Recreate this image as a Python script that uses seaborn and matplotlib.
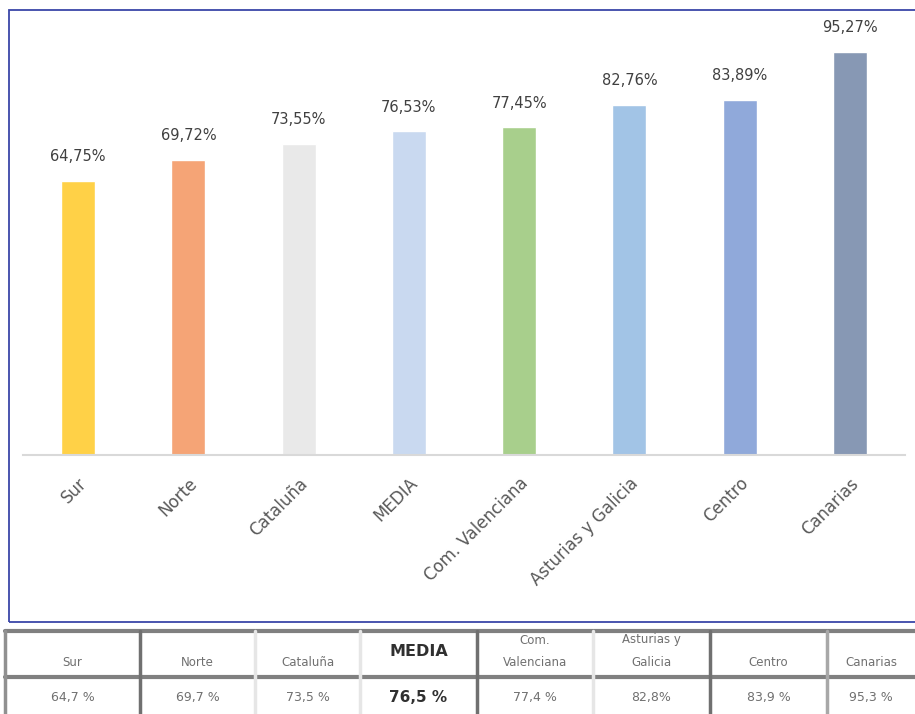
import matplotlib
matplotlib.use("Agg")
import matplotlib.pyplot as plt
import seaborn as sns
import pandas as pd
from matplotlib.patches import Rectangle
from matplotlib.lines import Line2D

categories = ["Sur", "Norte", "Cataluña", "MEDIA", "Com. Valenciana",
              "Asturias y Galicia", "Centro", "Canarias"]
values = [64.75, 69.72, 73.55, 76.53, 77.45, 82.76, 83.89, 95.27]
bar_labels = ["64,75%", "69,72%", "73,55%", "76,53%", "77,45%", "82,76%", "83,89%", "95,27%"]
table_headers = ["Sur", "Norte", "Cataluña", "MEDIA", "Com.\nValenciana",
                 "Asturias y\nGalicia", "Centro", "Canarias"]
table_values = ["64,7 %", "69,7 %", "73,5 %", "76,5 %", "77,4 %", "82,8%", "83,9 %", "95,3 %"]

colors = ["#FFD147", "#F5A476", "#E9E9E9", "#C9D9F0", "#A8CF8C",
          "#A2C4E6", "#90A9DA", "#8798B4"]

sns.set_theme(style="white")
plt.rcParams['font.family'] = ['DejaVu Sans']

W, H = 915, 714
fig = plt.figure(figsize=(W / 100, H / 100), dpi=100)

def px_axes(x0, y0, x1, y1):
    return fig.add_axes([x0 / W, 1 - y1 / H, (x1 - x0) / W, (y1 - y0) / H])

# chart border
fig.patches.append(Rectangle((9 / W, 1 - 622 / H), (930 - 9) / W, (622 - 10) / H,
                             transform=fig.transFigure, fill=False,
                             edgecolor="#3A46A8", linewidth=1.3))

ax = px_axes(23, 32, 905, 455)
df = pd.DataFrame({"cat": categories, "val": values})
sns.barplot(data=df, x="cat", y="val", hue="cat", palette=colors,
            legend=False, width=0.31, ax=ax, saturation=1)
ax.set_ylim(0, 100)
ax.set_xlim(-0.5, len(categories) - 0.5)
for s in ["top", "right", "left"]:
    ax.spines[s].set_visible(False)
ax.spines["bottom"].set_color("#D9D9D9")
ax.spines["bottom"].set_linewidth(1.5)
ax.set_yticks([])
ax.set_xlabel("")
ax.set_ylabel("")
ax.tick_params(axis="x", length=0, pad=14)
ax.set_xticks(range(len(categories)))
ax.set_xticklabels(categories, rotation=45, ha="right", rotation_mode="anchor",
                   fontsize=12, color="#595959")
for i, (v, lab) in enumerate(zip(values, bar_labels)):
    ax.annotate(lab, (i, v), xytext=(0, 12), textcoords="offset points",
                ha="center", va="bottom", fontsize=10.5, color="#404040")

# table
tax = px_axes(0, 628, W, H)
tax.set_xlim(0, W)
tax.set_ylim(H, 628)
tax.axis("off")
cols = [5, 140, 255, 360, 477, 593, 710, 827, 915]
line_colors = ["#909090", "#707070", "#E6E6E6", "#E6E6E6", "#707070", "#E6E6E6",
               "#707070", "#A8A8A8"]
tax.add_line(Line2D([5, W], [631, 631], color="#808080", lw=3))
tax.add_line(Line2D([5, W], [677, 677], color="#808080", lw=3))
for x, c in zip(cols[:-1], line_colors):
    tax.add_line(Line2D([x, x], [631, H], color=c, lw=2.5))
for i in range(len(table_headers)):
    cx = (cols[i] + cols[i + 1]) / 2
    bold = table_headers[i] == "MEDIA"
    if bold:
        tax.text(cx, 652, table_headers[i], ha="center", va="center",
                 fontsize=11.5, color="#303030", fontweight="bold")
    else:
        lines = table_headers[i].split("\n")
        for k, ln in enumerate(reversed(lines)):
            tax.text(cx, 662 - 22 * k, ln, ha="center", va="center",
                     fontsize=8.5, color="#707070")
    tax.text(cx, 697, table_values[i], ha="center", va="center",
             fontsize=11 if bold else 9, color="#303030" if bold else "#707070",
             fontweight="bold" if bold else "normal")

fig.savefig("out.png", dpi=100, facecolor="white")
